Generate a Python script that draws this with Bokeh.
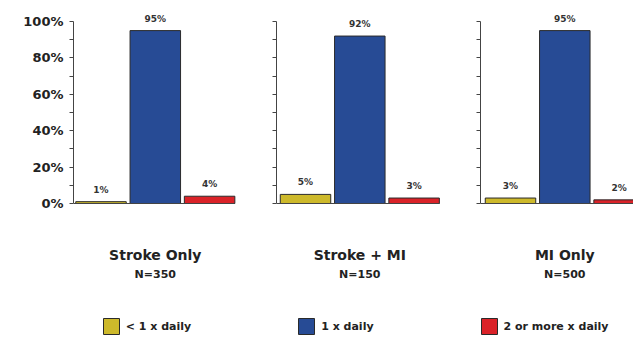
from bokeh.plotting import figure
from bokeh.layouts import column, row
from bokeh.models import FixedTicker, ColumnDataSource, Legend, LegendItem, Range1d
from bokeh.core.properties import value
from bokeh.embed import file_html
from bokeh.resources import INLINE

# ---- data ----
categories = ["Stroke Only", "Stroke + MI", "MI Only"]
group_sizes = ["N=350", "N=150", "N=500"]
series_names = ["< 1 x daily", "1 x daily", "2 or more x daily"]
less_than_once = [1, 5, 3]
once_daily = [95, 92, 95]
twice_or_more = [4, 3, 2]
y_ticks = [0, 20, 40, 60, 80, 100]
y_tick_labels = ["0%", "20%", "40%", "60%", "80%", "100%"]
y_minor_ticks = [10, 30, 50, 70, 90]

# ---- style ----
colors = ["#CDB92B", "#274B95", "#DA2228"]
outline = "#2a2a2a"
axis_color = "#444444"
text_color = "#222222"
FONT = "DejaVu Sans"
PX_PER_UNIT = 54.3
PX_PER_PCT = 1.82
BAR_W = 0.93
H_PANEL = 290
ZERO_Y = 203
panel_specs = [
    dict(width=266, border=73, lead=27.5, labels=True),
    dict(width=204, border=10, lead=29.0, labels=False),
    dict(width=163, border=10, lead=30.0, labels=False),
]

y_end = ZERO_Y / PX_PER_PCT
y_start = y_end - H_PANEL / PX_PER_PCT

series = [less_than_once, once_daily, twice_or_more]
panels = []
for gi, spec in enumerate(panel_specs):
    frame_w = spec["width"] - spec["border"]
    x_start = -spec["lead"] / PX_PER_UNIT
    x_end = x_start + frame_w / PX_PER_UNIT
    p = figure(width=spec["width"], height=H_PANEL,
               x_range=Range1d(x_start, x_end), y_range=Range1d(y_start, y_end),
               output_backend="svg", toolbar_location=None,
               min_border_left=spec["border"], min_border_right=0,
               min_border_top=0, min_border_bottom=0,
               outline_line_color=None)
    vals = [s[gi] for s in series]
    src = ColumnDataSource(dict(x=list(range(len(vals))), top=vals, color=colors,
                                label=[f"{v}%" for v in vals]))
    p.vbar(x="x", top="top", width=BAR_W, fill_color="color", line_color=outline,
           line_width=1, source=src)
    p.text(x="x", y="top", text="label", text_align="center", text_baseline="bottom",
           y_offset=-7, text_font=value(FONT), text_font_style="bold",
           text_font_size="9px", text_color="#333333", source=src)
    p.text(x=[1], y=[0], text=[categories[gi]], text_align="center",
           text_baseline="alphabetic", y_offset=51.5, text_font=value(FONT),
           text_font_style="bold", text_font_size="14px", text_color=text_color)
    p.text(x=[1], y=[0], text=[group_sizes[gi]], text_align="center",
           text_baseline="alphabetic", y_offset=70.5, text_font=value(FONT),
           text_font_style="bold", text_font_size="11px", text_color=text_color)

    p.xgrid.visible = False
    p.ygrid.visible = False

    ya = p.yaxis[0]
    if spec["labels"]:
        ya.ticker = FixedTicker(ticks=y_ticks, minor_ticks=y_minor_ticks)
        ya.major_label_overrides = {t: l for t, l in zip(y_ticks, y_tick_labels)}
        ya.major_label_text_font = FONT
        ya.major_label_text_font_style = "bold"
        ya.major_label_text_font_size = "13px"
        ya.major_label_text_color = text_color
        ya.major_label_standoff = 6
    else:
        # unlabeled axis: every tick drawn as an unlabeled (minor) tick
        ya.ticker = FixedTicker(ticks=[], minor_ticks=sorted(y_ticks + y_minor_ticks))
        ya.major_label_standoff = 2
    ya.bounds = (0, 100)
    ya.axis_line_color = axis_color
    ya.major_tick_line_color = axis_color
    ya.minor_tick_line_color = axis_color
    ya.major_tick_in = 0
    ya.major_tick_out = 4
    ya.minor_tick_in = 0
    ya.minor_tick_out = 4

    xa = p.xaxis[0]
    xa.fixed_location = 0
    xa.bounds = (x_start, len(vals) - 1 + BAR_W / 2)
    xa.ticker = FixedTicker(ticks=[])
    xa.major_label_standoff = 0
    xa.major_tick_out = 0
    xa.major_tick_in = 0
    xa.minor_tick_out = 0
    xa.minor_tick_in = 0
    xa.axis_line_color = axis_color
    panels.append(p)

# ---- legend strip ----
nan = float("nan")
leg = figure(width=633, height=49, output_backend="svg", toolbar_location=None,
             x_axis_location=None, y_axis_location=None,
             x_range=Range1d(0, 1), y_range=Range1d(0, 1),
             min_border_left=0, min_border_right=0, min_border_top=0,
             min_border_bottom=0, outline_line_color=None)
leg.xgrid.visible = False
leg.ygrid.visible = False
items = []
for name, c in zip(series_names, colors):
    r = leg.vbar(x=[nan], top=[nan], width=1, fill_color=c, line_color=outline)
    items.append(LegendItem(label=name, renderers=[r]))
legend = Legend(items=items, orientation="horizontal", location=(100.7, 3),
                spacing=105, glyph_width=20, glyph_height=20, label_standoff=5,
                padding=0, margin=0, border_line_color=None,
                background_fill_alpha=0, label_text_font=FONT,
                label_text_font_style="bold", label_text_font_size="11px",
                label_text_color=text_color, label_height=20)
leg.add_layout(legend, "center")

layout = column(row(*panels, spacing=0), leg, spacing=0)
open("out.html", "w").write(file_html(layout, INLINE))
